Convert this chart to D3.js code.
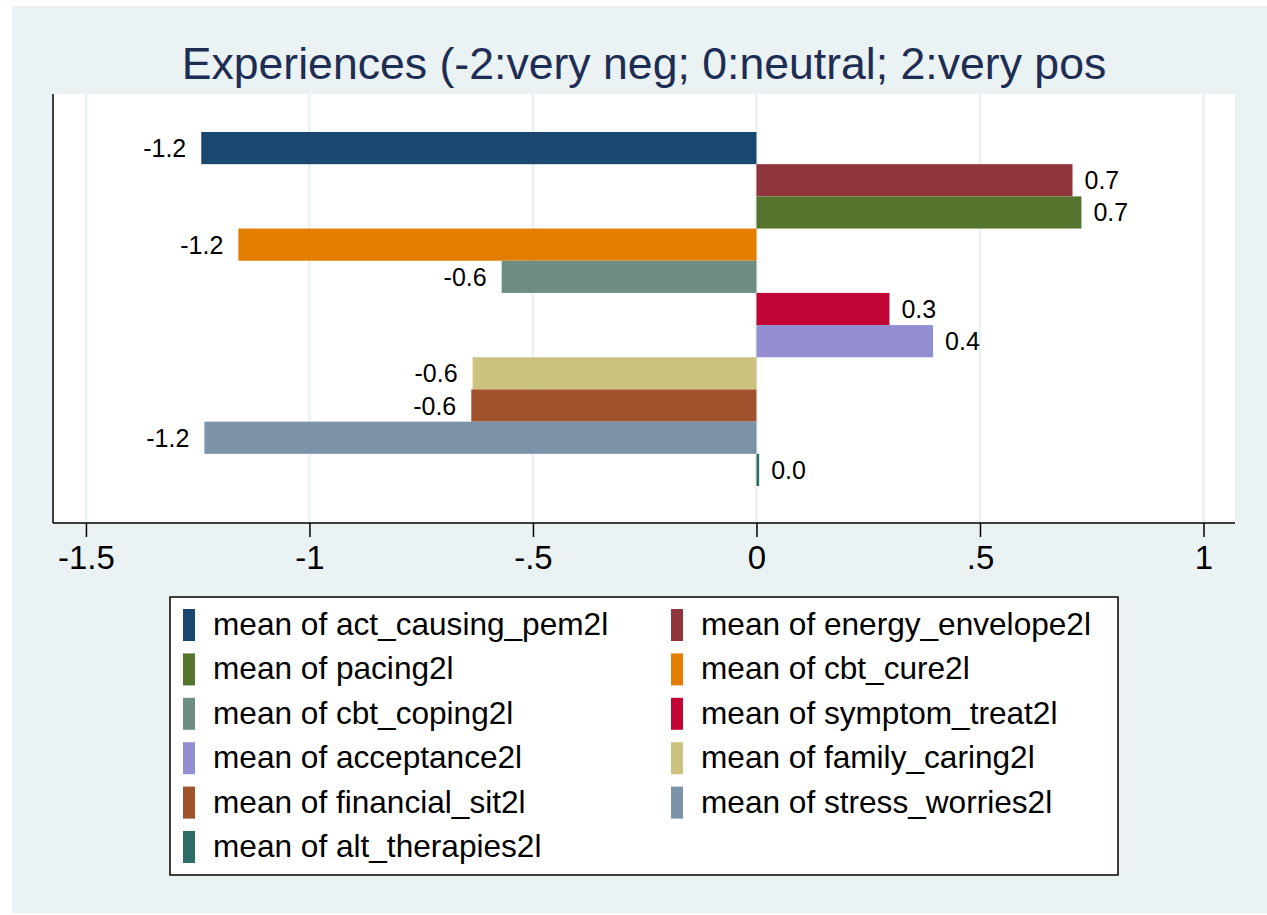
<!DOCTYPE html>
<html>
<head>
<meta charset="UTF-8">
<title>Experiences</title>
<script src="https://cdnjs.cloudflare.com/ajax/libs/d3/7.8.5/d3.min.js"></script>
<style>
  body { margin: 0; background: #ffffff; }
  text { font-family: "Liberation Sans", Arial, Helvetica, sans-serif; }
</style>
</head>
<body>
<div id="chart"></div>
<script>
// data
var variables = ["act_causing_pem2l", "energy_envelope2l", "pacing2l", "cbt_cure2l",
                 "cbt_coping2l", "symptom_treat2l", "acceptance2l", "family_caring2l",
                 "financial_sit2l", "stress_worries2l", "alt_therapies2l"];
var means = [-1.242, 0.707, 0.727, -1.159, -0.570, 0.2975, 0.395, -0.635, -0.638, -1.235, 0.006];
var colors = ["#1a476f", "#90353b", "#55752f", "#e37e00", "#6e8e84", "#c10534",
              "#938dd2", "#cac27e", "#a0522d", "#7b92a8", "#2d6d66"];
var xTicks = [-1.5, -1, -0.5, 0, 0.5, 1];
var xTickLabels = ["-1.5", "-1", "-.5", "0", ".5", "1"];
var title = "Experiences (-2:very neg; 0:neutral; 2:very pos";

var W = 1267, H = 915;
var plot = { left: 53, right: 1235, top: 94, bottom: 523 };

var svg = d3.select("#chart").append("svg")
    .attr("width", W).attr("height", H);

// graph region
svg.append("rect")
    .attr("x", 12).attr("y", 6)
    .attr("width", W - 12).attr("height", H - 8)
    .attr("fill", "#eaf2f3");

// plot region
svg.append("rect")
    .attr("x", plot.left).attr("y", plot.top)
    .attr("width", plot.right - plot.left).attr("height", plot.bottom - plot.top)
    .attr("fill", "#ffffff");

var x = d3.scaleLinear()
    .domain([-1.5737, 1.0705])
    .range([plot.left, plot.right]);

var y = d3.scaleBand()
    .domain(variables)
    .range([132, 486])
    .padding(0);

// grid lines
svg.append("g").selectAll("line")
    .data(xTicks)
    .join("line")
    .attr("x1", function(d) { return x(d); })
    .attr("x2", function(d) { return x(d); })
    .attr("y1", plot.top)
    .attr("y2", plot.bottom)
    .attr("stroke", "#eaf2f3")
    .attr("stroke-width", 2.6);

// bars
var rows = variables.map(function(v, i) {
    return { name: v, value: means[i], color: colors[i] };
});

svg.append("g").selectAll("rect")
    .data(rows)
    .join("rect")
    .attr("x", function(d) { return x(Math.min(0, d.value)); })
    .attr("y", function(d) { return y(d.name); })
    .attr("width", function(d) { return Math.abs(x(d.value) - x(0)); })
    .attr("height", y.bandwidth())
    .attr("fill", function(d) { return d.color; });

// value labels (plain hyphen like Stata, not the unicode minus)
var fmt = function(v) { return d3.format(".1f")(v).replace("\u2212", "-"); };
svg.append("g").selectAll("text")
    .data(rows)
    .join("text")
    .attr("x", function(d) { return d.value < 0 ? x(d.value) - 15 : x(d.value) + 12; })
    .attr("y", function(d) { return y(d.name) + y.bandwidth() / 2 + 9; })
    .attr("text-anchor", function(d) { return d.value < 0 ? "end" : "start"; })
    .attr("font-size", "25px")
    .attr("fill", "#000")
    .text(function(d) { return fmt(d.value); });

// axes
var xAxis = d3.axisBottom(x)
    .tickValues(xTicks)
    .tickSize(14)
    .tickPadding(9)
    .tickFormat(function(d, i) { return xTickLabels[i]; });

var gx = svg.append("g")
    .attr("transform", "translate(0," + plot.bottom + ")")
    .call(xAxis);
gx.select(".domain").remove();
gx.selectAll(".tick line").attr("stroke", "#000").attr("stroke-width", 1.5);
gx.selectAll(".tick text")
    .attr("font-family", "'Liberation Sans', Arial, sans-serif")
    .attr("font-size", "33px")
    .attr("fill", "#000");

svg.append("line")
    .attr("x1", plot.left).attr("x2", plot.right)
    .attr("y1", plot.bottom).attr("y2", plot.bottom)
    .attr("stroke", "#000").attr("stroke-width", 1.5);
svg.append("line")
    .attr("x1", plot.left).attr("x2", plot.left)
    .attr("y1", plot.top).attr("y2", plot.bottom)
    .attr("stroke", "#000").attr("stroke-width", 1.5);

// title
svg.append("text")
    .attr("x", 644).attr("y", 79)
    .attr("text-anchor", "middle")
    .attr("font-size", "44.6px")
    .attr("fill", "#1e2d54")
    .text(title);

// legend
var legend = { left: 170, top: 597, width: 948, height: 278 };
svg.append("rect")
    .attr("x", legend.left).attr("y", legend.top)
    .attr("width", legend.width).attr("height", legend.height)
    .attr("fill", "#ffffff")
    .attr("stroke", "#000")
    .attr("stroke-width", 1.5);

var colX = [183, 671];
var rowY = d3.scaleLinear().domain([0, 5]).range([625, 847]);

var items = svg.append("g").selectAll("g")
    .data(rows)
    .join("g")
    .attr("transform", function(d, i) {
        return "translate(" + colX[i % 2] + "," + rowY(Math.floor(i / 2)) + ")";
    });

items.append("rect")
    .attr("x", 0).attr("y", -16)
    .attr("width", 12).attr("height", 32)
    .attr("fill", function(d) { return d.color; });

items.append("text")
    .attr("x", 30).attr("y", 10)
    .attr("font-size", "31.6px")
    .attr("fill", "#000")
    .text(function(d) { return "mean of " + d.name; });
</script>
</body>
</html>
